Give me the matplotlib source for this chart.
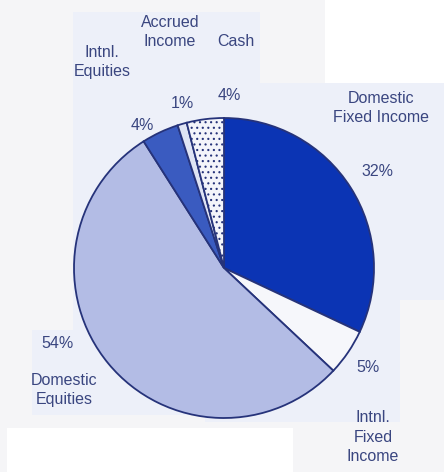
import matplotlib
matplotlib.use("Agg")
import matplotlib.pyplot as plt
from matplotlib.patches import Rectangle, Polygon

categories = ["Domestic\nFixed Income", "Intnl.\nFixed\nIncome", "Domestic\nEquities",
              "Intnl.\nEquities", "Accrued\nIncome", "Cash"]
values = [32, 5, 54, 4, 1, 4]
pct_labels = ["32%", "5%", "54%", "4%", "1%", "4%"]

colors = ["#0b34b4", "#f6f7fb", "#b3bce5", "#3a5bc0", "#dfe4f4", "#f3f4fa"]
hatches = [None, None, None, None, None, "..."]

W, H = 444, 472
fig = plt.figure(figsize=(W / 100, H / 100), dpi=100)
fig.patch.set_facecolor("#f5f5f7")
ax = fig.add_axes([0, 0, 1, 1])
ax.set_xlim(0, W)
ax.set_ylim(0, H)
ax.axis("off")

def Y(py):
    return H - py

panel = "#edf0f9"
# background panel pieces (scan look)
ax.add_patch(Polygon([(73, Y(12)), (260, Y(12)), (260, Y(83)), (444, Y(83)), (444, Y(300)),
                      (400, Y(300)), (400, Y(422)), (205, Y(422)), (205, Y(415)),
                      (32, Y(415)), (32, Y(330)), (73, Y(330))],
                     closed=True, facecolor=panel, edgecolor="none", zorder=0))
ax.add_patch(Rectangle((325, Y(83)), 119, 83, facecolor="white", edgecolor="none", zorder=0))
ax.add_patch(Rectangle((7, 0), 286, Y(428), facecolor="white", edgecolor="none", zorder=0))

plt.rcParams["hatch.color"] = "#8e9bd2"
plt.rcParams["hatch.linewidth"] = 0.8
wedges, _ = ax.pie(values, colors=colors, startangle=90, counterclock=False,
                   center=(224, Y(268)), radius=150, frame=True,
                   wedgeprops=dict(edgecolor="#26337a", linewidth=1.3))
for w, h in zip(wedges, hatches):
    w.set_zorder(2)
    if h:
        w.set_hatch(h)
ax.set_xlim(0, W)
ax.set_ylim(0, H)
ax.axis("off")

tc = "#3a4680"
fs = 11.5
font = ["Liberation Sans", "DejaVu Sans"]
cat_pos = [(381, 108), (373, 437), (64, 390), (102, 62), (170, 32), (236, 42)]
pct_pos = [(377, 172), (368, 368), (57, 343), (142, 126), (182, 103), (229, 95)]
for c, p, cp, pp in zip(categories, pct_labels, cat_pos, pct_pos):
    ax.text(cp[0], Y(cp[1]), c, ha="center", va="center", fontsize=fs, color=tc,
            family=font, linespacing=1.4, zorder=3)
    ax.text(pp[0], Y(pp[1]), p, ha="center", va="center", fontsize=fs, color=tc,
            family=font, zorder=3)

fig.savefig("out.png", dpi=100, facecolor=fig.get_facecolor())
